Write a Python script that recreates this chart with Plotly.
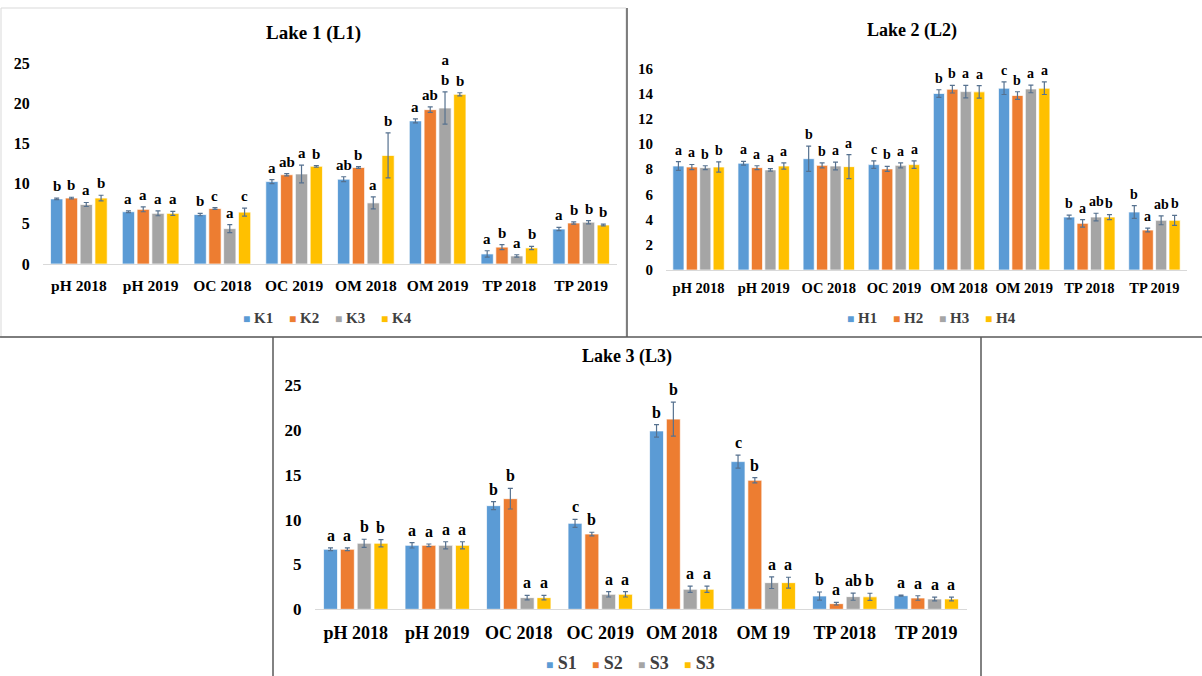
import plotly.graph_objects as go

# ---- categories ----
cats_l1 = ["pH 2018", "pH 2019", "OC 2018", "OC 2019", "OM 2018", "OM 2019", "TP 2018", "TP 2019"]
cats_l2 = ["pH 2018", "pH 2019", "OC 2018", "OC 2019", "OM 2018", "OM 2019", "TP 2018", "TP 2019"]
cats_l3 = ["pH 2018", "pH 2019", "OC 2018", "OC 2019", "OM 2018", "OM 19", "TP 2018", "TP 2019"]

# ---- Lake 1 (sites K1-K4) ----
k_names = ["K1", "K2", "K3", "K4"]
k1 = [8.1, 6.5, 6.15, 10.25, 10.55, 17.8, 1.25, 4.35]
k2 = [8.2, 6.8, 6.9, 11.1, 12.0, 19.2, 2.1, 5.1]
k3 = [7.4, 6.3, 4.4, 11.2, 7.6, 19.4, 1.0, 5.2]
k4 = [8.2, 6.3, 6.45, 12.15, 13.5, 21.1, 2.0, 4.85]
k1_err = [0.1, 0.1, 0.15, 0.25, 0.3, 0.25, 0.4, 0.2]
k2_err = [0.1, 0.3, 0.1, 0.15, 0.1, 0.35, 0.3, 0.15]
k3_err = [0.25, 0.3, 0.5, 1.1, 0.75, 2.0, 0.15, 0.2]
k4_err = [0.35, 0.25, 0.5, 0.1, 2.8, 0.2, 0.2, 0.1]
k1_sig = ["b", "a", "b", "a", "ab", "a", "a", "a"]
k2_sig = ["b", "a", "c", "ab", "b", "ab", "b", "b"]
k3_sig = ["a", "a", "a", "a", "a", "a<br>b", "a", "b"]
k4_sig = ["b", "a", "c", "b", "b", "b", "b", "b"]

# ---- Lake 2 (sites H1-H4) ----
h_names = ["H1", "H2", "H3", "H4"]
h1 = [8.25, 8.47, 8.83, 8.36, 14.0, 14.42, 4.2, 4.6]
h2 = [8.17, 8.12, 8.3, 8.02, 14.34, 13.84, 3.7, 3.17]
h3 = [8.12, 7.94, 8.25, 8.3, 14.15, 14.36, 4.2, 3.94]
h4 = [8.17, 8.25, 8.2, 8.36, 14.13, 14.42, 4.2, 3.94]
h1_err = [0.35, 0.15, 1.0, 0.3, 0.3, 0.5, 0.15, 0.5]
h2_err = [0.2, 0.15, 0.2, 0.2, 0.3, 0.3, 0.3, 0.15]
h3_err = [0.15, 0.1, 0.3, 0.2, 0.5, 0.3, 0.3, 0.35]
h4_err = [0.4, 0.25, 0.95, 0.3, 0.5, 0.5, 0.2, 0.4]
h1_sig = ["a", "a", "b", "c", "b", "c", "b", "b"]
h2_sig = ["a", "a", "b", "b", "b", "b", "a", "a"]
h3_sig = ["b", "a", "a", "a", "a", "a", "ab", "ab"]
h4_sig = ["b", "a", "a", "a", "a", "a", "b", "b"]

# ---- Lake 3 (sites S1-S3, last series labelled S3 as well) ----
s_names = ["S1", "S2", "S3", "S3"]
s1 = [6.69, 7.13, 11.55, 9.58, 19.88, 16.46, 1.48, 1.52]
s2 = [6.69, 7.13, 12.33, 8.39, 21.2, 14.38, 0.63, 1.26]
s3 = [7.36, 7.13, 1.3, 1.67, 2.23, 2.97, 1.41, 1.15]
s4 = [7.36, 7.13, 1.3, 1.67, 2.23, 2.97, 1.39, 1.15]
s1_err = [0.15, 0.3, 0.45, 0.45, 0.7, 0.72, 0.45, 0.05]
s2_err = [0.15, 0.15, 1.15, 0.2, 1.9, 0.3, 0.15, 0.25]
s3_err = [0.45, 0.4, 0.25, 0.3, 0.35, 0.65, 0.4, 0.2]
s4_err = [0.4, 0.4, 0.25, 0.3, 0.35, 0.6, 0.4, 0.2]
s1_sig = ["a", "a", "b", "c", "b", "c", "b", "a"]
s2_sig = ["a", "a", "b", "b", "b", "b", "a", "a"]
s3_sig = ["b", "a", "a", "a", "a", "a", "ab", "a"]
s4_sig = ["b", "a", "a", "a", "a", "a", "b", "a"]

colors = ["#5B9BD5", "#ED7D31", "#A5A5A5", "#FFC000"]
FONT = "Liberation Serif"
BARGAP = 0.175
BARGROUPGAP = 0.17

W, H = 1202, 676


def px_x(p):
    return p / W


def px_y(p):
    return 1 - p / H


panels = [
    dict(cats=cats_l1, names=k_names, means=[k1, k2, k3, k4],
         errs=[k1_err, k2_err, k3_err, k4_err], sigs=[k1_sig, k2_sig, k3_sig, k4_sig],
         xdom=[px_x(43), px_x(617)], ydom=[px_y(264), px_y(63)], yrange=[0, 25], dtick=5,
         xstand=7, xfont=15.5, yfont=16, sigfont=15, legfont=15,
         title="Lake 1 (L1)", tsize=19, tx=313, ty=33, lx=203, ly=317),
    dict(cats=cats_l2, names=h_names, means=[h1, h2, h3, h4],
         errs=[h1_err, h2_err, h3_err, h4_err], sigs=[h1_sig, h2_sig, h3_sig, h4_sig],
         xdom=[px_x(666), px_x(1187)], ydom=[px_y(270), px_y(68.3)], yrange=[0, 16], dtick=2,
         xstand=5, xfont=14.5, yfont=15, sigfont=14, legfont=15,
         title="Lake 2 (L2)", tsize=18, tx=912, ty=30, lx=807, ly=317),
    dict(cats=cats_l3, names=s_names, means=[s1, s2, s3, s4],
         errs=[s1_err, s2_err, s3_err, s4_err], sigs=[s1_sig, s2_sig, s3_sig, s4_sig],
         xdom=[px_x(315), px_x(967)], ydom=[px_y(609.3), px_y(385)], yrange=[0, 25], dtick=5,
         xstand=7, xfont=18, yfont=17, sigfont=16, legfont=18,
         title="Lake 3 (L3)", tsize=18, tx=627, ty=356, lx=506, ly=662),
]

fig = go.Figure()
annotations = []
layout_axes = {}

for p_i, p in enumerate(panels):
    n = p_i + 1
    xa = "x" if n == 1 else f"x{n}"
    ya = "y" if n == 1 else f"y{n}"
    lg = "legend" if n == 1 else f"legend{n}"
    nser = len(p["names"])
    slot = (1 - BARGAP) / nser
    for s_i in range(nser):
        fig.add_trace(go.Bar(
            x=p["cats"], y=p["means"][s_i], name=p["names"][s_i],
            xaxis=xa, yaxis=ya, showlegend=False,
            marker=dict(color=colors[s_i], line=dict(color="rgba(255,255,255,0.7)", width=1)),
            error_y=dict(type="data", array=p["errs"][s_i], visible=True,
                         color="#56718F", thickness=1.2, width=2.5),
        ))
        # legend entry: small coloured square followed by the series name
        fig.add_trace(go.Scatter(
            x=[None], y=[None], mode="markers",
            name=f"<span style='color:{colors[s_i]};font-size:12px'>■</span> {p['names'][s_i]}",
            xaxis=xa, yaxis=ya, legend=lg, showlegend=True,
            legendwidth=45 if s_i == nser - 1 else 1,
            marker=dict(symbol="square", size=1, color="rgba(0,0,0,0)"),
        ))
        # significance letters above each error bar
        for c_i, txt in enumerate(p["sigs"][s_i]):
            xpos = c_i - (1 - BARGAP) / 2 + (s_i + 0.5) * slot
            annotations.append(dict(
                x=xpos, y=p["means"][s_i][c_i] + p["errs"][s_i][c_i],
                xref=xa, yref=ya, text=txt, showarrow=False,
                xanchor="center", yanchor="bottom", yshift=2,
                font=dict(family=FONT, size=p["sigfont"], color="black", weight="bold"),
            ))
    annotations.append(dict(
        x=px_x(p["tx"]), y=px_y(p["ty"]), xref="paper", yref="paper",
        text=p["title"], showarrow=False, xanchor="center", yanchor="middle",
        font=dict(family=FONT, size=p["tsize"], color="black", weight="bold"),
    ))
    xkey = "xaxis" if n == 1 else f"xaxis{n}"
    ykey = "yaxis" if n == 1 else f"yaxis{n}"
    layout_axes[xkey] = dict(
        domain=p["xdom"], anchor=ya, type="category", range=[-0.5, 7.5],
        showline=True, linecolor="#D9D9D9", linewidth=1, showgrid=False, zeroline=False,
        ticks="outside", ticklen=p["xstand"], tickcolor="rgba(0,0,0,0)", tickangle=0,
        tickfont=dict(family=FONT, size=p["xfont"], color="black", weight="bold"),
    )
    layout_axes[ykey] = dict(
        domain=p["ydom"], anchor=xa, range=p["yrange"], dtick=p["dtick"],
        showline=False, showgrid=False, zeroline=False,
        ticks="outside", ticklen=9, tickcolor="rgba(0,0,0,0)",
        tickfont=dict(family=FONT, size=p["yfont"], color="black", weight="bold"),
    )
    layout_axes[lg] = dict(
        orientation="h", x=px_x(p["lx"]), y=px_y(p["ly"]), xanchor="left", yanchor="middle",
        font=dict(family=FONT, size=p["legfont"], color="#404040", weight="bold"),
        itemwidth=30, entrywidthmode="pixels",
        bgcolor="rgba(0,0,0,0)", tracegroupgap=0, itemclick=False, itemdoubleclick=False,
    )

# panel frames
shapes = [
    dict(type="rect", xref="paper", yref="paper", x0=px_x(1), x1=px_x(626), y0=px_y(337), y1=px_y(8),
         line=dict(color="#D9D9D9", width=1)),
    dict(type="line", xref="paper", yref="paper", x0=px_x(627), x1=px_x(627), y0=px_y(337), y1=px_y(8),
         line=dict(color="#595959", width=1.5)),
    dict(type="line", xref="paper", yref="paper", x0=0, x1=1, y0=px_y(337), y1=px_y(337),
         line=dict(color="#595959", width=1.5)),
    dict(type="line", xref="paper", yref="paper", x0=px_x(273), x1=px_x(273), y0=0, y1=px_y(337),
         line=dict(color="#595959", width=1.5)),
    dict(type="line", xref="paper", yref="paper", x0=px_x(981), x1=px_x(981), y0=0, y1=px_y(337),
         line=dict(color="#595959", width=1.5)),
]

fig.update_layout(
    width=W, height=H, margin=dict(l=0, r=0, t=0, b=0, autoexpand=False),
    paper_bgcolor="white", plot_bgcolor="white",
    barmode="group", bargap=BARGAP, bargroupgap=BARGROUPGAP,
    annotations=annotations, shapes=shapes,
    **layout_axes,
)

fig.write_html("out.html")
